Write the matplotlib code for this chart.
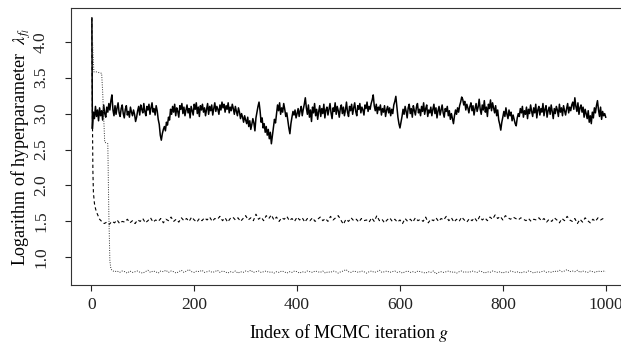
import matplotlib
matplotlib.use("Agg")
import matplotlib.pyplot as plt

plt.rcParams['font.family'] = ['Liberation Serif', 'DejaVu Serif']
plt.rcParams['mathtext.fontset'] = 'stix'

# trace 1 (solid): log lambda, read every 2nd iteration
g_solid = [1] + list(range(2, 1001, 2))
y_solid = [4.33,
    2.79, 3.02, 2.93, 3.10, 2.96, 3.05, 2.90, 3.08, 2.97, 3.04,
    2.91, 3.12, 3.00, 2.95, 3.09, 3.02, 3.14, 3.05, 3.18, 3.26,
    3.05, 2.97, 3.11, 2.99, 3.08, 3.15, 3.01, 2.96, 3.07, 3.12,
    3.00, 2.94, 3.06, 3.11, 2.98, 3.03, 2.95, 3.09, 3.02, 2.97,
    3.05, 2.99, 2.89, 2.95, 3.04, 3.10, 2.98, 3.12, 3.06, 3.01,
    3.14, 3.03, 2.97, 3.10, 3.05, 3.13, 2.99, 3.08, 3.15, 3.02,
    3.07, 2.98, 3.11, 3.04, 2.92, 2.85, 2.70, 2.63, 2.72, 2.78,
    2.82, 2.76, 2.88, 2.84, 2.95, 2.91, 3.06, 2.99, 3.10, 3.02,
    3.13, 2.97, 3.08, 3.03, 2.95, 3.11, 3.06, 3.14, 3.00, 3.09,
    2.97, 3.05, 3.12, 3.01, 3.07, 2.94, 3.10, 3.04, 2.98, 3.13,
    3.06, 3.15, 3.00, 3.09, 2.96, 3.11, 3.05, 3.13, 3.02, 3.08,
    2.97, 3.06, 3.14, 2.99, 3.10, 3.04, 3.12, 2.98, 3.07, 3.15,
    3.03, 3.10, 3.06, 2.99, 3.12, 3.05, 3.16, 3.08, 3.13, 3.02,
    3.11, 3.06, 3.15, 3.01, 3.09, 3.04, 3.13, 3.07, 2.99, 3.10,
    3.03, 2.97, 3.08, 3.02, 2.93, 3.00, 2.95, 2.88, 2.97, 2.91,
    2.86, 2.95, 2.82, 2.90, 2.78, 2.85, 2.93, 2.87, 2.76, 2.94,
    3.02, 3.10, 3.16, 3.04, 2.88, 2.94, 2.80, 2.86, 2.74, 2.82,
    2.70, 2.78, 2.65, 2.74, 2.58, 2.69, 2.80, 2.92, 2.87, 3.00,
    3.12, 3.04, 3.15, 2.99, 3.08, 3.02, 3.14, 3.06, 2.96, 3.01,
    2.90, 2.80, 2.72, 2.86, 2.95, 3.03, 2.98, 3.05, 2.94, 3.00,
    3.07, 2.96, 3.04, 3.10, 2.97, 3.06, 3.13, 3.22, 3.08, 2.99,
    3.12, 2.95, 3.05, 2.89, 3.09, 3.01, 3.14, 2.97, 3.06, 2.92,
    3.03, 3.11, 2.96, 3.07, 3.00, 3.13, 2.94, 3.05, 3.09, 2.98,
    3.06, 3.14, 3.01, 2.93, 3.08, 3.03, 3.15, 2.99, 3.10, 3.04,
    2.95, 3.07, 3.12, 3.00, 3.09, 2.97, 3.05, 3.16, 3.02, 2.96,
    3.10, 3.04, 3.13, 2.99, 3.08, 3.15, 3.03, 2.97, 3.11, 3.06,
    3.14, 3.01, 3.09, 3.05, 2.98, 3.12, 3.07, 3.16, 3.03, 3.10,
    3.06, 3.14, 3.19, 3.26, 3.11, 3.04, 3.13, 3.00, 3.09, 3.05,
    3.12, 2.98, 3.07, 3.02, 3.11, 2.96, 3.05, 3.10, 3.01, 3.08,
    2.97, 3.06, 3.00, 3.12, 3.17, 3.24, 3.10, 2.95, 2.86, 2.80,
    2.88, 2.96, 3.06, 2.99, 3.10, 3.03, 2.94, 3.08, 3.13, 3.00,
    3.07, 2.95, 3.11, 3.04, 2.98, 3.09, 3.14, 3.01, 3.06, 2.97,
    3.10, 3.03, 3.15, 2.99, 3.07, 3.12, 2.96, 3.05, 3.01, 3.09,
    2.97, 3.06, 3.13, 3.00, 3.08, 2.94, 3.04, 3.10, 2.98, 3.05,
    3.12, 3.01, 2.95, 3.07, 3.03, 3.10, 2.97, 3.04, 2.92, 3.00,
    2.93, 2.86, 2.97, 3.05, 2.99, 3.08, 3.02, 3.11, 3.16, 3.23,
    3.20, 3.12, 3.17, 3.05, 3.13, 3.08, 3.01, 3.10, 3.15, 3.04,
    3.11, 2.98, 3.07, 3.14, 3.03, 3.09, 3.20, 3.06, 2.99, 3.12,
    3.05, 3.18, 3.02, 3.09, 2.96, 3.13, 3.07, 3.19, 3.04, 3.15,
    3.08, 3.01, 3.11, 2.97, 3.05, 2.91, 2.85, 2.77, 2.88, 2.95,
    3.03, 2.96, 3.08, 2.99, 2.93, 3.05, 2.97, 3.02, 2.90, 2.98,
    2.92, 2.86, 2.83, 2.94, 3.00, 2.96, 3.07, 3.01, 3.10, 2.95,
    3.04, 2.99, 3.09, 2.93, 3.06, 3.00, 3.12, 3.03, 2.96, 3.08,
    3.01, 3.13, 2.94, 3.05, 3.10, 2.98, 3.07, 3.02, 3.14, 2.97,
    3.06, 3.11, 2.95, 3.04, 3.09, 2.99, 3.12, 3.03, 2.93, 3.07,
    3.00, 3.10, 3.05, 2.96, 3.13, 3.02, 3.08, 2.97, 3.11, 3.04,
    2.98, 3.07, 3.14, 3.01, 3.09, 3.04, 3.12, 3.16, 3.06, 3.22,
    3.10, 3.03, 3.15, 2.99, 3.08, 3.12, 3.02, 3.09, 2.95, 3.06,
    3.00, 2.93, 3.04, 2.88, 2.97, 2.86, 3.02, 2.94, 3.08, 3.01,
    3.11, 3.18, 3.05, 2.96, 3.09, 2.92, 3.03, 2.97, 3.00, 2.95]

# trace 2 (dashed)
g_dashed = [1, 2, 3, 4, 6, 8, 10, 13, 16, 20] + list(range(25, 1001, 5))
y_dashed = [4.33, 3.00, 2.20, 1.90, 1.75, 1.68, 1.63, 1.58, 1.53, 1.50,
    1.47, 1.49, 1.46, 1.50, 1.48, 1.52, 1.47, 1.50, 1.49, 1.53,
    1.48, 1.51, 1.47, 1.52, 1.50, 1.54, 1.48, 1.51, 1.55, 1.49,
    1.52, 1.50, 1.54, 1.48, 1.53, 1.51, 1.56, 1.50, 1.53, 1.49,
    1.55, 1.51, 1.54, 1.50, 1.56, 1.52, 1.49, 1.54, 1.51, 1.55,
    1.52, 1.56, 1.50, 1.54, 1.53, 1.57, 1.51, 1.55, 1.49, 1.54,
    1.56, 1.52, 1.55, 1.50, 1.54, 1.58, 1.52, 1.55, 1.51, 1.60,
    1.53, 1.56, 1.51, 1.58, 1.54, 1.59, 1.52, 1.56, 1.50, 1.55,
    1.53, 1.57, 1.51, 1.54, 1.50, 1.56, 1.52, 1.55, 1.49, 1.54,
    1.51, 1.55, 1.50, 1.53, 1.56, 1.51, 1.54, 1.50, 1.57, 1.52,
    1.55, 1.58, 1.52, 1.46, 1.53, 1.50, 1.55, 1.51, 1.53, 1.49,
    1.54, 1.51, 1.52, 1.49, 1.55, 1.50, 1.58, 1.51, 1.53, 1.48,
    1.52, 1.55, 1.50, 1.53, 1.49, 1.52, 1.47, 1.54, 1.50, 1.53,
    1.49, 1.55, 1.51, 1.53, 1.50, 1.56, 1.48, 1.53, 1.51, 1.55,
    1.50, 1.54, 1.52, 1.57, 1.51, 1.55, 1.49, 1.53, 1.50, 1.56,
    1.52, 1.49, 1.54, 1.51, 1.55, 1.50, 1.57, 1.52, 1.55, 1.51,
    1.56, 1.53, 1.59, 1.54, 1.57, 1.52, 1.58, 1.55, 1.53, 1.56,
    1.54, 1.52, 1.55, 1.53, 1.51, 1.54, 1.50, 1.53, 1.52, 1.55,
    1.51, 1.54, 1.49, 1.53, 1.50, 1.55, 1.52, 1.48, 1.54, 1.51,
    1.57, 1.52, 1.50, 1.54, 1.47, 1.53, 1.49, 1.55, 1.51, 1.48,
    1.53, 1.50, 1.55, 1.52, 1.54, 1.52]

# trace 3 (dotted)
g_dotted = [1, 3, 5, 10, 15, 20, 22, 26, 30, 32, 34, 36, 38] + list(range(40, 1001, 5))
y_dotted = [4.33, 3.85, 3.58, 3.58, 3.57, 3.56, 3.30, 2.60, 2.59, 2.58, 1.60, 0.95, 0.84,
    0.82, 0.80, 0.81, 0.79, 0.81, 0.80, 0.78, 0.81, 0.79, 0.80,
    0.81, 0.79, 0.78, 0.80, 0.82, 0.79, 0.81, 0.80, 0.78, 0.81,
    0.80, 0.82, 0.79, 0.81, 0.80, 0.78, 0.80, 0.82, 0.79, 0.81,
    0.83, 0.80, 0.79, 0.81, 0.80, 0.82, 0.79, 0.80, 0.81, 0.79,
    0.80, 0.82, 0.79, 0.81, 0.80, 0.78, 0.80, 0.79, 0.81, 0.78,
    0.80, 0.79, 0.81, 0.80, 0.82, 0.79, 0.80, 0.81, 0.79, 0.80,
    0.81, 0.79, 0.80, 0.78, 0.80, 0.79, 0.81, 0.80, 0.78, 0.80,
    0.79, 0.81, 0.80, 0.78, 0.80, 0.79, 0.81, 0.80, 0.79, 0.81,
    0.80, 0.79, 0.81, 0.78, 0.80, 0.79, 0.81, 0.80, 0.78, 0.80,
    0.81, 0.83, 0.80, 0.79, 0.81, 0.80, 0.79, 0.81, 0.80, 0.78,
    0.80, 0.81, 0.79, 0.80, 0.82, 0.79, 0.80, 0.81, 0.79, 0.80,
    0.81, 0.79, 0.80, 0.78, 0.80, 0.81, 0.79, 0.80, 0.79, 0.81,
    0.80, 0.79, 0.78, 0.80, 0.79, 0.81, 0.77, 0.79, 0.80, 0.79,
    0.80, 0.81, 0.79, 0.80, 0.78, 0.80, 0.81, 0.79, 0.80, 0.79,
    0.81, 0.80, 0.79, 0.81, 0.80, 0.78, 0.80, 0.79, 0.81, 0.80,
    0.79, 0.80, 0.78, 0.80, 0.79, 0.81, 0.80, 0.79, 0.80, 0.78,
    0.80, 0.79, 0.81, 0.80, 0.78, 0.80, 0.79, 0.80, 0.81, 0.79,
    0.80, 0.79, 0.81, 0.80, 0.82, 0.80, 0.81, 0.83, 0.80, 0.81,
    0.80, 0.82, 0.79, 0.81, 0.80, 0.79, 0.81, 0.80, 0.79, 0.81,
    0.80, 0.81, 0.80]

x_ticks = [0, 200, 400, 600, 800, 1000]
y_ticks = [1.0, 1.5, 2.0, 2.5, 3.0, 3.5, 4.0]

fig = plt.figure(figsize=(6.21, 3.43), dpi=100)
# the plot box runs past the right edge of the picture (cropped like the original)
ax = fig.add_axes([0.1148, 0.1691, 0.8937, 0.8067])

ax.plot(g_solid, y_solid, color='black', lw=1.1, linestyle='-')
ax.plot(g_dashed, y_dashed, color='black', lw=0.8, linestyle=(0, (3, 2.5)))
ax.plot(g_dotted, y_dotted, color='#333333', lw=0.7, linestyle=(0, (1, 1.5)))

ax.set_xlim(-39, 1040)
ax.set_ylim(0.615, 4.465)
ax.set_xticks(x_ticks)
ax.set_xticklabels([str(t) for t in x_ticks])
ax.set_yticks(y_ticks)
ax.set_yticklabels(['%.1f' % t for t in y_ticks], rotation=90, va='center')

ax.tick_params(direction='out', length=4, width=0.8, labelsize=12.5, colors='#222222')
ax.tick_params(axis='x', pad=5)
ax.tick_params(axis='y', pad=12)
for s in ax.spines.values():
    s.set_linewidth(0.8)
    s.set_color('#333333')

ax.set_xlabel(r'Index of MCMC iteration $g$', fontsize=13)
ax.set_ylabel(r'Logarithm of hyperparameter  $\lambda_{f_l}$', fontsize=13)
ax.xaxis.set_label_coords(0.5, -0.133)
ax.yaxis.set_label_coords(-0.069, 0.5)

plt.savefig('out.png', dpi=100)
